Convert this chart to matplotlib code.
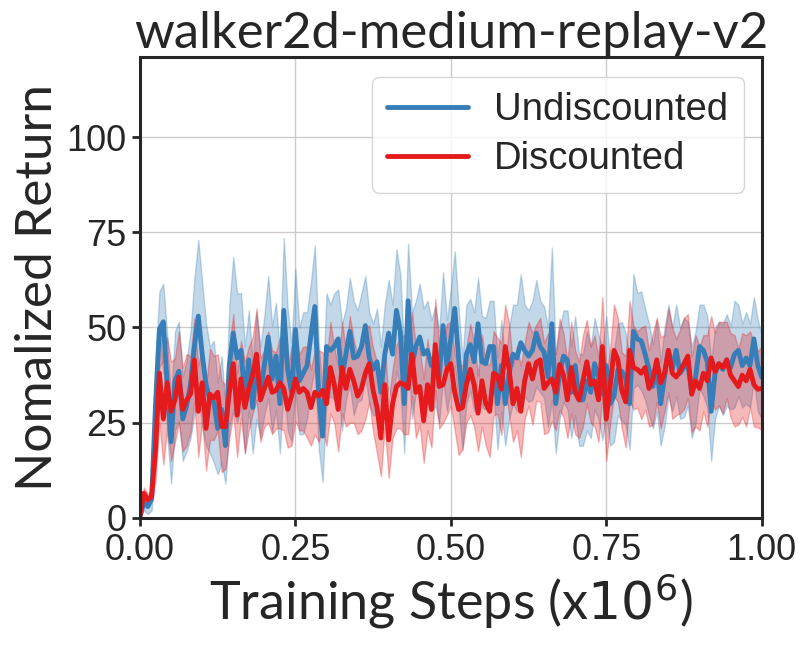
import numpy as np
import matplotlib
matplotlib.use("Agg")
import matplotlib.pyplot as plt
import seaborn as sns

# evaluation every 1/160 of 1e6 steps
steps = np.linspace(0.0, 1.0, 161)

undisc_mean = [
    0.5, 4, 3, 5, 30, 49.5, 51.5, 35, 20, 36,
    38.5, 26, 29.5, 35, 45, 53, 43, 35, 31, 30.5,
    23.5, 28.5, 19, 40, 48.5, 42, 44, 31, 41.5, 29,
    40, 33, 40, 47.5, 36.5, 42.5, 30, 54.5, 39, 33,
    49.5, 36, 38, 40, 48, 55.5, 32, 21.5, 45, 44,
    45, 47, 37, 43, 49, 42, 42.5, 45, 50.5, 42,
    39, 41, 33, 43, 48.5, 43, 54.5, 49, 30, 57,
    40, 45, 47.5, 43, 44, 40, 42.5, 37, 50.5, 40,
    47, 55, 42, 30, 43, 45.5, 41, 51, 41, 40.5,
    45, 45, 30, 40, 30, 38, 43, 42, 46, 44,
    42.5, 44, 48.5, 45, 43.5, 37, 51, 30, 38, 42.5,
    41.5, 33, 40, 31, 31, 36, 33, 40.5, 37, 32.5,
    40, 30, 32, 39, 38.5, 36.5, 30, 49, 47, 46.5,
    43, 39, 34.5, 40, 30, 37, 44, 39, 44, 38,
    39.5, 40.5, 33, 37, 45, 44, 41, 28, 38, 40.5,
    39, 41.5, 39.5, 43, 44, 40, 42, 40, 47, 40,
    37,
]
undisc_std = [
    0.5, 2, 2, 3, 12, 10, 10, 13, 11, 13,
    13, 11, 12, 14, 18, 20, 19, 16, 14, 16,
    12, 14, 10, 16, 20, 17, 15, 14, 13, 12,
    14, 12, 13, 16, 14, 14, 13, 19, 16, 13,
    16, 14, 16, 14, 14, 16, 14, 12, 14, 12,
    14, 13, 14, 12, 14, 15, 12, 14, 13, 12,
    12, 14, 12, 13, 14, 13, 16, 15, 13, 15,
    14, 12, 14, 12, 13, 12, 13, 12, 14, 12,
    13, 15, 13, 12, 13, 12, 13, 12, 12, 12,
    12, 12, 12, 12, 11, 12, 13, 14, 18, 12,
    12, 13, 14, 12, 12, 13, 20, 13, 12, 12,
    13, 12, 13, 12, 12, 13, 12, 12, 11, 12,
    13, 11, 12, 12, 13, 12, 12, 15, 12, 13,
    12, 12, 11, 12, 11, 13, 12, 11, 12, 12,
    13, 11, 12, 12, 11, 12, 12, 13, 12, 11,
    12, 12, 11, 14, 12, 11, 12, 11, 11, 12,
    11,
]

disc_mean = [
    0.5, 6.5, 4.8, 5.7, 18, 38, 26, 35.5, 28, 31,
    37, 28.5, 31, 32.5, 41.5, 28, 35.5, 23.5, 32.5, 31.5,
    33, 24, 24, 33, 40.5, 27, 36.5, 29, 34, 37.5,
    43, 31, 34, 37, 33, 33.5, 35.5, 34, 28.5, 32,
    36.5, 33, 34, 33, 29, 33, 32, 33.5, 30, 39.5,
    35, 28.5, 39.5, 34, 39, 36, 32, 34, 38, 40.5,
    33.5, 29, 21, 35, 20.5, 30, 34.5, 35.5, 35, 34,
    43, 33, 34.5, 25.5, 35, 28.5, 45.5, 34.5, 35, 39,
    40.5, 33, 28.5, 29, 35, 39, 35, 27.5, 36, 30,
    28, 38, 37.3, 33.8, 45, 39, 30, 34, 28, 36,
    40.5, 36.5, 40.8, 41.5, 34, 35.5, 36.5, 33, 40.3, 37.5,
    31, 39.5, 33, 31, 36, 41, 35, 36, 31, 45,
    26, 34.6, 44, 41.5, 33.5, 30.5, 44, 39.5, 39, 38,
    39.5, 34, 36.5, 41.5, 35.5, 38, 44, 38, 37, 38.5,
    40.5, 42.5, 32.5, 36, 34, 38, 36, 42, 38.5, 40.5,
    39.5, 41.5, 37.5, 36, 34.5, 37.5, 36, 39, 35, 33.8,
    34,
]
disc_std = [
    0.5, 1.5, 1.5, 1.5, 8, 13, 12, 12, 13, 11,
    12, 11, 12, 10, 11, 12, 10, 11, 12, 11,
    10, 12, 11, 12, 13, 11, 10, 12, 11, 10,
    12, 11, 10, 12, 11, 10, 12, 11, 10, 13,
    11, 10, 11, 12, 10, 11, 12, 10, 11, 12,
    10, 11, 12, 10, 14, 11, 10, 11, 12, 10,
    11, 12, 10, 11, 10, 9, 11, 12, 13, 12,
    11, 12, 10, 11, 12, 10, 12, 11, 10, 12,
    11, 10, 12, 11, 10, 12, 11, 10, 12, 11,
    12, 11, 10, 12, 11, 12, 10, 11, 12, 10,
    11, 12, 10, 11, 12, 13, 11, 10, 12, 11,
    10, 12, 11, 10, 12, 11, 10, 12, 11, 13,
    11, 10, 12, 11, 10, 12, 13, 11, 10, 12,
    11, 10, 12, 11, 12, 10, 11, 12, 10, 11,
    12, 11, 10, 12, 11, 10, 12, 11, 10, 11,
    12, 10, 11, 12, 10, 11, 12, 10, 11, 10,
    11,
]

x_ticks = [0.0, 0.25, 0.5, 0.75, 1.0]
y_ticks = [0, 25, 50, 75, 100]

sns.set_style("ticks")
plt.rcParams['font.family'] = ['Liberation Sans', 'DejaVu Sans']
plt.rcParams['mathtext.fontset'] = 'dejavusans'
label_font = ['Lato', 'DejaVu Sans']

blue = '#377eb8'
red = '#e41a1c'

fig = plt.figure(figsize=(8.06, 6.47), dpi=100)
ax = fig.add_axes([0.1737, 0.1994, 0.7713, 0.7125])

series = [
    ("Undiscounted", undisc_mean, undisc_std, blue),
    ("Discounted", disc_mean, disc_std, red),
]
for name, m, s, c in series:
    m = np.array(m)
    s = np.array(s)
    ax.fill_between(steps, m - s, m + s, color=c, alpha=0.3, linewidth=1)
for name, m, s, c in series:
    ax.plot(steps, m, color=c, linewidth=3.5, label=name)

ax.set_xlim(0, 1.0)
ax.set_ylim(0, 121)
ax.set_xticks(x_ticks)
ax.set_yticks(y_ticks)
ax.set_xticklabels([f"{t:.2f}" for t in x_ticks])
ax.grid(True, color='#cccccc', linewidth=1)
ax.tick_params(labelsize=26, width=2, length=6, color='#262626', labelcolor='#262626')
ax.tick_params(axis='x', pad=5)
for sp in ax.spines.values():
    sp.set_linewidth(2.2)
    sp.set_color('#262626')

ax.set_title("walker2d-medium-replay-v2", fontsize=36.5, family=label_font, color='#262626', pad=6)
ax.set_ylabel("Nomalized Return", fontsize=37, family=label_font, color='#262626')
ax.set_xlabel("Training Steps (x$10^6$)", fontsize=37.5, family=label_font, color='#262626',
              labelpad=2)

leg = ax.legend(loc='upper right', fontsize=27.5, frameon=True, handlelength=2.1,
                handletextpad=0.7, borderpad=0.4, labelspacing=0.35,
                borderaxespad=0, bbox_to_anchor=(0.971, 0.957))
leg.get_frame().set_edgecolor('#cccccc')

fig.savefig("out.png", dpi=100)
